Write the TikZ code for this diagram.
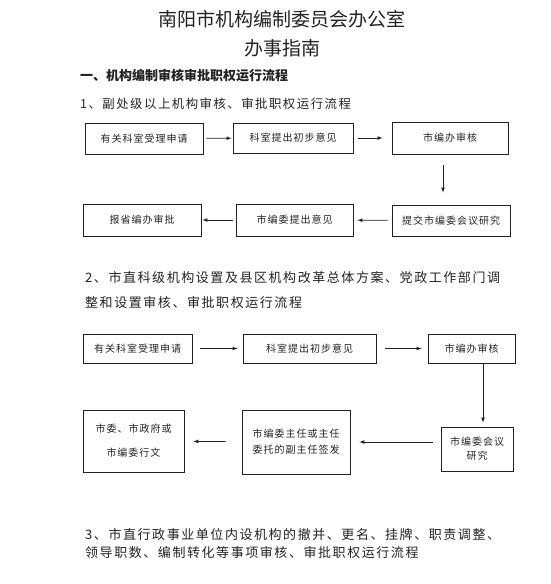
\documentclass[tikz,border=0pt]{standalone}
\usepackage{fontspec}
\newfontfamily\cjk{Noto Sans CJK SC}
\newfontfamily\cjkbox[LetterSpace=10]{Noto Sans CJK SC}
\newfontfamily\cjktext[LetterSpace=12]{Noto Sans CJK SC}
\definecolor{ink}{HTML}{222222}

\begin{document}
\begin{tikzpicture}[x=1pt,y=-1pt,inner sep=0pt,>=latex,
	box/.style={rectangle,draw=ink,line width=0.8pt,minimum width=118,minimum height=31,text=ink,align=center,font=\cjkbox\fontsize{10}{15}\selectfont},
	title/.style={text=ink,font=\cjk\fontsize{19}{22}\selectfont},
	note/.style={anchor=west,text=ink,font=\cjktext\fontsize{13}{16}\selectfont},
	flow/.style={->,draw=ink,line width=0.7pt}]
	
	\useasboundingbox (0,0) rectangle (550,584);
	
	% headings
	\node at (282,19) [title] (t1) {南阳市机构编制委员会办公室};
	\node at (282,48) [title] (t2) {办事指南};
	\node at (80,76) [anchor=west,text=ink,font=\cjk\bfseries\fontsize{13}{16}\selectfont] (h1) {一、机构编制审核审批职权运行流程};
	\node at (80,104) [note,font=\cjktext\fontsize{12.4}{16}\selectfont] (s1) {1、副处级以上机构审核、审批职权运行流程};
	
	% flow 1
	\node at (144,138.5) [box] (a1) {有关科室受理申请};
	\node at (293,138) [box,minimum width=120,minimum height=30] (a2) {科室提出初步意见};
	\node at (450,138) [box,minimum width=116,minimum height=32] (a3) {市编办审核};
	\node at (451,220.5) [box] (a4) {提交市编委会议研究};
	\node at (294.5,220) [box,minimum width=117,minimum height=32] (a5) {市编委提出意见};
	\node at (142,220) [box,minimum height=32] (a6) {报省编办审批};
	
	\draw[flow,shorten <=3pt,shorten >=1pt] (a1) -- (a2);
	\draw[flow,shorten <=5pt,shorten >=9pt] (a2) -- (a3);
	\draw[flow,shorten <=11pt,shorten >=12pt] ([xshift=-7pt]a3.south) -- ([xshift=-8pt]a4.north);
	\draw[flow,shorten <=4pt,shorten >=4pt] (a4) -- (a5);
	\draw[flow,shorten <=3pt,shorten >=1pt] (a5) -- (a6);
	
	% flow 2
	\node at (85,278) [note] (s2) {2、市直科级机构设置及县区机构改革总体方案、党政工作部门调};
	\node at (85,303) [note] (s2b) {整和设置审核、审批职权运行流程};
	
	\node at (137.5,348.5) [box,minimum width=109,minimum height=29] (b1) {有关科室受理申请};
	\node at (309.5,348.5) [box,minimum width=133,minimum height=29] (b2) {科室提出初步意见};
	\node at (471.5,348.5) [box,minimum width=87,minimum height=29] (b3) {市编办审核};
	\node at (477,449) [box,minimum width=72,minimum height=44,font=\cjkbox\fontsize{10}{14}\selectfont] (b4) {市编委会议\\研究};
	\node at (296,442) [box,minimum width=108,minimum height=64,font=\cjkbox\fontsize{10}{16}\selectfont] (b5) {市编委主任或主任\\委托的副主任签发};
	\node at (133.5,441) [box,minimum width=101,minimum height=62,font=\cjkbox\fontsize{10}{24}\selectfont] (b6) {市委、市政府或\\市编委行文};
	
	\draw[flow,shorten <=8pt,shorten >=5pt] (b1) -- (b2);
	\draw[flow,shorten <=9pt,shorten >=6pt] (b2) -- (b3);
	\draw[flow,shorten >=4pt] ([xshift=11.5pt]b3.south) -- ([xshift=11.5pt]b3.south |- b4.north);
	\draw[flow,shorten <=8pt,shorten >=9pt] (b4.west |- b5.east) -- (b5.east);
	\draw[flow,shorten <=16pt,shorten >=9pt] (b5) -- (b6);
	
	% part 3
	\node at (85,535) [note] (s3) {3、市直行政事业单位内设机构的撤并、更名、挂牌、职责调整、};
	\node at (85,553) [note] (s3b) {领导职数、编制转化等事项审核、审批职权运行流程};
	
\end{tikzpicture}
\end{document}
